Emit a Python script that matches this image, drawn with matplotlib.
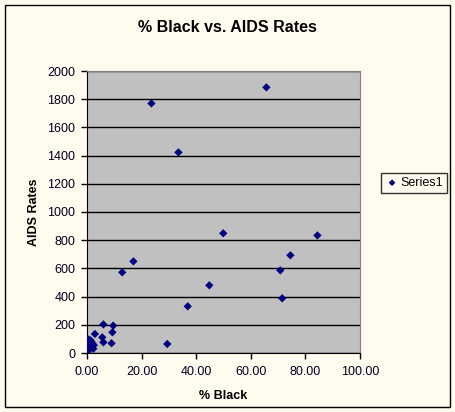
import matplotlib
matplotlib.use('Agg')
import matplotlib.pyplot as plt
from matplotlib.patches import Rectangle

# % Black vs AIDS rates
pct_black = [23.6, 65.7, 33.5, 49.9, 84.4, 74.5, 70.8, 17.0, 12.9, 44.8,
             71.5, 36.9, 29.4, 6.0, 9.6, 9.3, 9.0, 5.6, 6.0, 2.9,
             0.3, 0.5, 0.8, 1.0, 1.3, 1.6, 2.0, 2.3, 0.2, 1.2, 2.5, 0.6]
aids_rates = [1770, 1884, 1423, 849, 834, 693, 586, 650, 572, 480,
              388, 331, 64, 203, 194, 147, 69, 111, 76, 135,
              20, 35, 55, 75, 90, 45, 70, 30, 10, 60, 55, 95]

plt.rcParams['font.family'] = ['Liberation Sans', 'DejaVu Sans']

bg = '#fffbef'
fig = plt.figure(figsize=(4.55, 4.12), dpi=100, facecolor=bg)
ax = fig.add_axes([87/455, 59/412, 273/455, 282/412])
ax.set_facecolor('#c0c0c0')

ax.scatter(pct_black, aids_rates, marker='D', s=18, color='#000080',
           edgecolors='none', zorder=3, label='Series1')

ax.set_xlim(0, 100)
ax.set_ylim(0, 2000)
ax.set_xticks(range(0, 101, 20))
ax.set_xticklabels(['%.2f' % v for v in range(0, 101, 20)])
ax.set_yticks(range(0, 2001, 200))
ax.yaxis.grid(True, color='black', linewidth=1)
ax.set_axisbelow(True)
for side in ['top', 'right']:
    ax.spines[side].set_color('#808080')
ax.spines['left'].set_color('black')
ax.spines['bottom'].set_color('black')
ax.tick_params(direction='out', length=4, width=1, labelsize=9,
               labelcolor='#000020')
ax.tick_params(axis='x', pad=5.5)
ax.tick_params(axis='y', pad=4.5)

ax.set_xlabel('% Black', fontsize=9, fontweight='bold', labelpad=8.5)
ax.set_ylabel('AIDS Rates', fontsize=9, fontweight='bold', labelpad=5)
fig.text(0.5, 1 - 27/412, '% Black vs. AIDS Rates', ha='center', va='center',
         fontsize=11.5, fontweight='bold')

leg = fig.legend(loc='center', bbox_to_anchor=(414/455, 1 - 183/412),
                 frameon=True, fancybox=False, fontsize=9, handletextpad=0.1,
                 borderpad=0.35, markerscale=0.8, handlelength=1.1)
leg.get_frame().set_edgecolor('black')
leg.get_frame().set_facecolor(bg)
leg.get_frame().set_linewidth(1)

fig.patches.append(Rectangle((5/455, 5/412), 445/455, 402/412,
                             transform=fig.transFigure, fill=False,
                             edgecolor='black', linewidth=1))

fig.savefig('out.png', dpi=100, facecolor=bg)
